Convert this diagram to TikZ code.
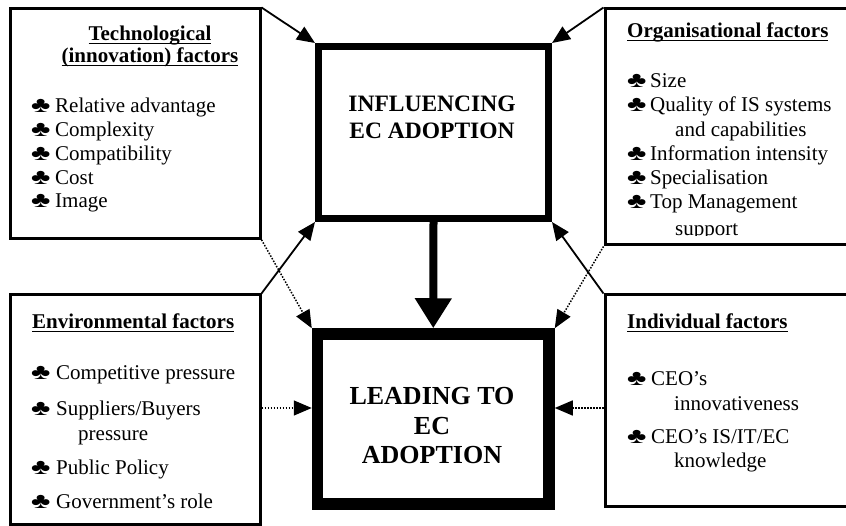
\documentclass[tikz,border=0pt]{standalone}
\usepackage{fontspec}
\setmainfont{Liberation Serif}
\usetikzlibrary{arrows.meta}
% underlined heading text with a rule just under the baseline
\newcommand\ulin[1]{\setbox0\hbox{#1}\rlap{\rule[-3.2pt]{\wd0}{1.5pt}}\box0}
% the bullet: a widened club
\newcommand\clubmark{\scalebox{1.4}[1.05]{♣}}
\tikzset{
  factor/.style={draw, rectangle, line width=3pt, inner sep=0pt},
  centre/.style={draw, rectangle, inner sep=0pt},
  txt/.style={inner sep=0pt, anchor=base west, font=\fontsize{21}{24}\selectfont},
  head/.style={inner sep=0pt, anchor=base west, font=\fontsize{21}{24}\selectfont\bfseries},
  clubm/.style={inner sep=0pt, anchor=base west, font=\fontsize{21}{24}\selectfont},
  big/.style={inner sep=0pt, anchor=base, font=\bfseries},
  solidarr/.style={line width=1.8pt, -{Triangle[length=18pt,width=15pt]}},
  dotarr/.style={line width=1.5pt, dash pattern=on 1.5pt off 1.5pt, -{Triangle[length=18pt,width=15pt]}},
}
\begin{document}
\begin{tikzpicture}[x=1pt,y=-1pt]
\useasboundingbox (0,0) rectangle (846,526);
\clip (0,0) rectangle (846,526);
\fill[white] (0,0) rectangle (846,526);

% ---- factor boxes ----
\node[factor, minimum width=249.5pt, minimum height=229.3pt] (tech) at (135.25,123.65) {};
\node[factor, minimum width=265pt,   minimum height=236pt]   (org)  at (737.5,127) {};
\node[factor, minimum width=249.5pt, minimum height=229.5pt] (env)  at (135.25,409.75) {};
\node[factor, minimum width=265pt,   minimum height=211.5pt] (ind)  at (737.5,400.75) {};

% ---- central boxes ----
\node[centre, line width=7pt,    minimum width=230pt,   minimum height=172pt] (inf)  at (433.5,132.5) {};
\node[centre, line width=11.5pt, minimum width=231.5pt, minimum height=170pt] (lead) at (433.25,419) {};

\node[big, font=\fontsize{23.5}{27}\selectfont\bfseries] (inf1) at (432,112) {INFLUENCING};
\node[big, font=\fontsize{23.5}{27}\selectfont\bfseries] (inf2) at (432,139) {EC ADOPTION};
\node[big, font=\fontsize{26}{29}\selectfont\bfseries] (lead1) at (432,405) {LEADING TO};
\node[big, font=\fontsize{26}{29}\selectfont\bfseries] (lead2) at (432,434) {EC};
\node[big, font=\fontsize{26}{29}\selectfont\bfseries] (lead3) at (432,463) {ADOPTION};

% ---- technological factors ----
\node[head, anchor=base] (th1) at (150,41) {\ulin{Technological}};
\node[head, anchor=base] (th2) at (150,63) {\ulin{(innovation) factors}};
\node[clubm] (tc1) at (31,113) {\clubmark}; \node[txt] (tt1) at (55,113) {Relative advantage};
\node[clubm] (tc2) at (31,137) {\clubmark}; \node[txt] (tt2) at (55,137) {Complexity};
\node[clubm] (tc3) at (31,161) {\clubmark}; \node[txt] (tt3) at (55,161) {Compatibility};
\node[clubm] (tc4) at (31,185) {\clubmark}; \node[txt] (tt4) at (55,185) {Cost};
\node[clubm] (tc5) at (31,208) {\clubmark}; \node[txt] (tt5) at (55,208) {Image};

% ---- organisational factors (text frame cuts the last line) ----
\begin{scope}
\clip (606,0) rectangle (846,236);
\node[head] (oh) at (627,38) {\ulin{Organisational factors}};
\node[clubm] (oc1) at (627,88)  {\clubmark}; \node[txt] (ot1) at (650,88)  {Size};
\node[clubm] (oc2) at (627,112) {\clubmark}; \node[txt] (ot2) at (650,112) {Quality of IS systems};
                                             \node[txt] (ot2b) at (675,136.5) {and capabilities};
\node[clubm] (oc3) at (627,161) {\clubmark}; \node[txt] (ot3) at (650,161) {Information intensity};
\node[clubm] (oc4) at (627,185) {\clubmark}; \node[txt] (ot4) at (650,185) {Specialisation};
\node[clubm] (oc5) at (627,209) {\clubmark}; \node[txt] (ot5) at (650,209) {Top Management};
                                             \node[txt] (ot5b) at (675,235.5) {support};
\end{scope}

% ---- environmental factors ----
\node[head] (eh) at (32,329) {\ulin{Environmental factors}};
\node[clubm] (ec1) at (31,380) {\clubmark}; \node[txt] (et1) at (56,380) {Competitive pressure};
\node[clubm] (ec2) at (31,415) {\clubmark}; \node[txt] (et2) at (56,415) {Suppliers/Buyers};
                                            \node[txt] (et2b) at (78,440) {pressure};
\node[clubm] (ec3) at (31,474) {\clubmark}; \node[txt] (et3) at (56,474) {Public Policy};
\node[clubm] (ec4) at (31,508) {\clubmark}; \node[txt] (et4) at (56,508) {Government’s role};

% ---- individual factors ----
\node[head] (ih) at (627,329) {\ulin{Individual factors}};
\node[clubm] (ic1) at (627,386) {\clubmark}; \node[txt] (it1) at (651,386) {CEO’s};
                                             \node[txt] (it1b) at (674,410) {innovativeness};
\node[clubm] (ic2) at (627,443) {\clubmark}; \node[txt] (it2) at (651,443) {CEO’s IS/IT/EC};
                                             \node[txt] (it2b) at (674,467) {knowledge};

% ---- connectors ----
\coordinate (lvl) at (0,408);
\draw[solidarr] (tech.north east) -- (inf.north west);
\draw[solidarr] (org.north west)  -- (inf.north east);
\draw[solidarr] (env.north east)  -- (inf.south west);
\draw[solidarr] (ind.north west)  -- (inf.south east);
\draw[dotarr] (tech.south east) -- (lead.north west);
\draw[dotarr] (org.south west)  -- (lead.north east);
\draw[dotarr] (env.east |- lvl) -- (lead.west |- lvl);
\draw[dotarr] (ind.west |- lvl) -- (lead.east |- lvl);
\draw[line width=8pt, -{Triangle[length=30pt,width=35pt]}] (inf.south) -- (lead.north);
\end{tikzpicture}
\end{document}
